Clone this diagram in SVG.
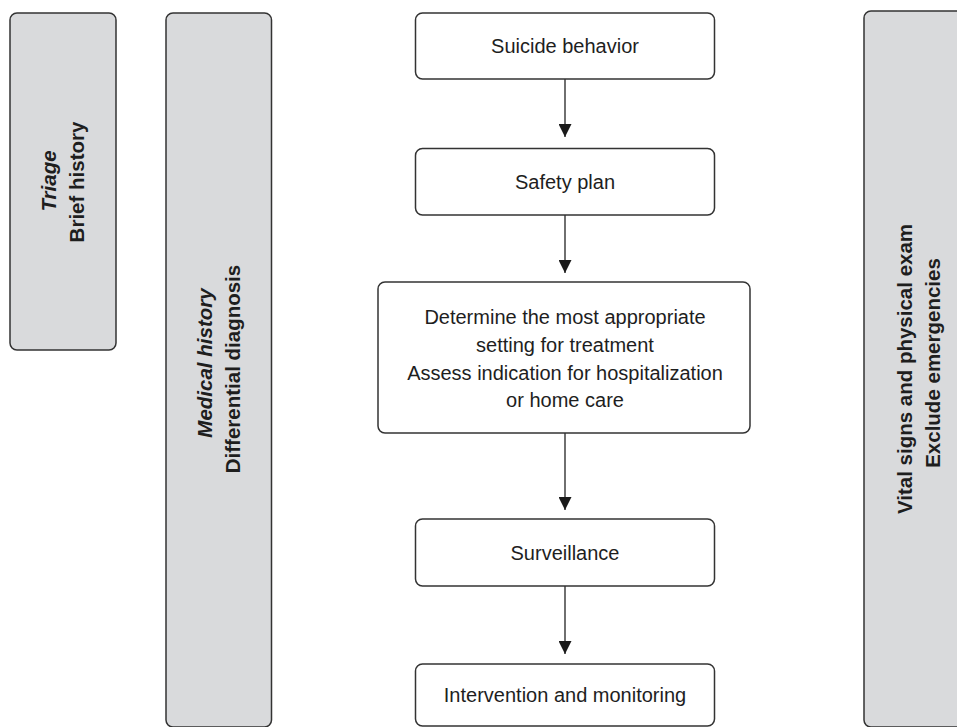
<svg xmlns="http://www.w3.org/2000/svg" width="957" height="727" viewBox="0 0 957 727">
<defs>
<marker id="ah" markerUnits="userSpaceOnUse" markerWidth="14" markerHeight="13" refX="13" refY="6.5" orient="auto" viewBox="0 0 13 13">
<path d="M0,0 L13,6.5 L0,13 Z" fill="#1a1a1a"/>
</marker>
</defs>
<style>
.side{fill:#d9dadc;stroke:#333;stroke-width:1.5}
.box{fill:#fff;stroke:#333;stroke-width:1.5}
.t{font-family:"Liberation Sans",Arial,sans-serif;font-size:20px;fill:#1e1e1e;text-anchor:middle}
.s{font-family:"Liberation Sans",Arial,sans-serif;font-size:20.5px;font-weight:bold;fill:#1e1e1e;text-anchor:middle}
.i{font-style:italic}
.c{stroke:#333;stroke-width:1.4;fill:none;marker-end:url(#ah)}
</style>
<rect width="957" height="727" fill="#fff"/>
<g id="triage">
<rect class="side" x="10" y="13" width="106" height="337" rx="7"/>
<text class="s i" transform="translate(56,181) rotate(-90)">Triage</text>
<text class="s" transform="translate(83.5,182) rotate(-90)">Brief history</text>
</g>
<g id="medical">
<rect class="side" x="166" y="13" width="105.5" height="714" rx="7"/>
<text class="s i" transform="translate(212,363) rotate(-90)">Medical history</text>
<text class="s" transform="translate(240,369) rotate(-90)">Differential diagnosis</text>
</g>
<g id="vital">
<rect class="side" x="864" y="11" width="110" height="716" rx="7"/>
<text class="s" transform="translate(912,369) rotate(-90)">Vital signs and physical exam</text>
<text class="s" transform="translate(940,363) rotate(-90)">Exclude emergencies</text>
</g>
<g id="suicide">
<rect class="box" x="415.5" y="13" width="299" height="66" rx="7"/>
<text class="t" x="565" y="53">Suicide behavior</text>
</g>
<g id="safety">
<rect class="box" x="415.5" y="148.5" width="299" height="66.5" rx="7"/>
<text class="t" x="565" y="189">Safety plan</text>
</g>
<g id="setting">
<rect class="box" x="378" y="282" width="372" height="151" rx="7"/>
<text class="t" x="565" y="324">Determine the most appropriate</text>
<text class="t" x="565" y="352">setting for treatment</text>
<text class="t" x="565" y="380">Assess indication for hospitalization</text>
<text class="t" x="565" y="407">or home care</text>
</g>
<g id="surveillance">
<rect class="box" x="415.5" y="519" width="299" height="67" rx="7"/>
<text class="t" x="565" y="560">Surveillance</text>
</g>
<g id="intervention">
<rect class="box" x="415.5" y="664" width="299" height="62" rx="7"/>
<text class="t" x="565" y="702">Intervention and monitoring</text>
</g>
<g id="connectors">
<line class="c" x1="565" y1="79" x2="565" y2="137"/>
<line class="c" x1="565" y1="215" x2="565" y2="273"/>
<line class="c" x1="565" y1="433" x2="565" y2="510"/>
<line class="c" x1="565" y1="586" x2="565" y2="654"/>
</g>
</svg>
